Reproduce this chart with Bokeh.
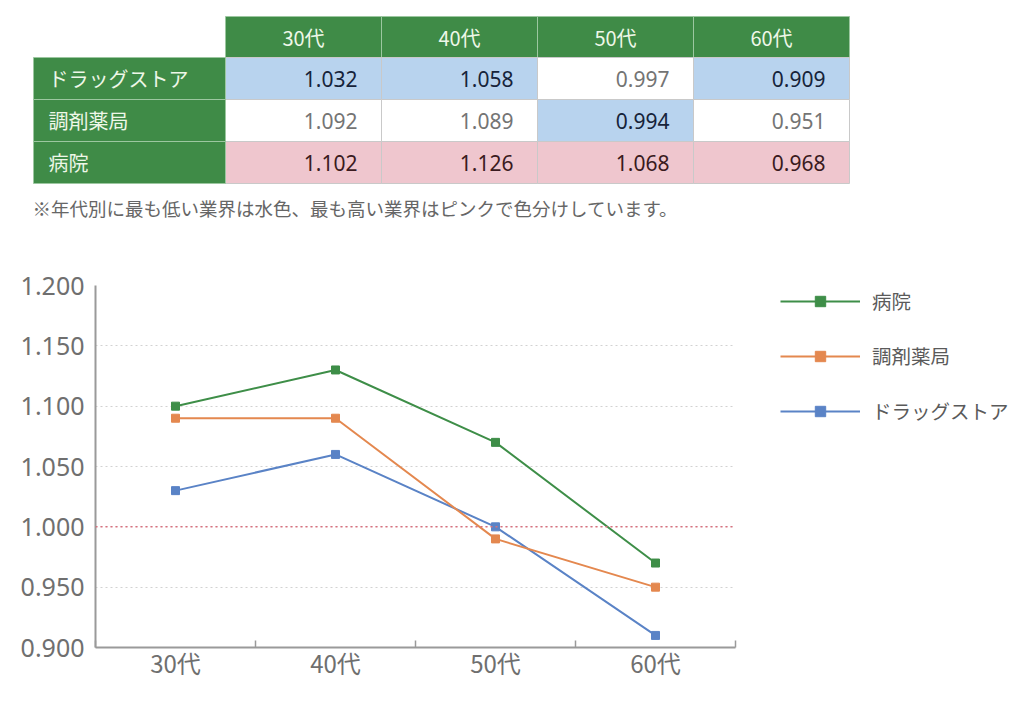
from bokeh.plotting import figure
from bokeh.models import (Range1d, FixedTicker, NumeralTickFormatter, Span, Legend,
                          LegendItem, ColumnDataSource)
from bokeh.core.properties import value
from bokeh.embed import file_html
from bokeh.resources import INLINE

# ---------------- data ----------------
ages = ["30代", "40代", "50代", "60代"]
industries = ["ドラッグストア", "調剤薬局", "病院"]
table_drug = [1.032, 1.058, 0.997, 0.909]
table_pharm = [1.092, 1.089, 0.994, 0.951]
table_hosp = [1.102, 1.126, 1.068, 0.968]
note = "※年代別に最も低い業界は水色、最も高い業界はピンクで色分けしています。"

# values as plotted in the line chart
chart_hosp = [1.10, 1.13, 1.07, 0.97]
chart_pharm = [1.09, 1.09, 0.99, 0.95]
chart_drug = [1.03, 1.06, 1.00, 0.91]
y_ticks = [0.900, 0.950, 1.000, 1.050, 1.100, 1.150, 1.200]
baseline = 1.000

# ---------------- styles ----------------
JP = "Noto Sans CJK JP"
NUM = "Noto Sans"
GREEN = "#3f8b47"
BLUE_CELL = "#b8d3ee"
PINK_CELL = "#efc6ce"
C_HOSP = "#3e8e48"
C_PHARM = "#e4884f"
C_DRUG = "#5a83c6"

# ---------------- table figure ----------------
TW, TH = 1008, 228
t = figure(width=TW, height=TH, x_range=Range1d(0, TW), y_range=Range1d(TH, 0),
           output_backend="svg", toolbar_location=None, min_border=0,
           x_axis_type=None, y_axis_type=None, outline_line_color=None)
t.grid.visible = False

LEFT = 33          # left of row header column
HEAD_W = 192       # row header column width
CW = 156           # data column width
TOP = 16           # top of header row
HH = 41            # header row height
RH = 42            # data row height
COL0 = LEFT + HEAD_W

# header row
hx = [COL0 + i * CW + CW / 2 for i in range(len(ages))]
t.rect(x=hx, y=[TOP + HH / 2] * len(ages), width=CW, height=HH,
       fill_color=GREEN, line_color="#9cc7a0", line_width=1)
t.text(x=hx, y=[TOP + HH / 2] * len(ages), text=ages, text_align="center",
       text_baseline="middle", text_color="#eef7e8", text_font=value(JP),
       text_font_size="20px")

rows = [table_drug, table_pharm, table_hosp]
cx, cy, fill, txt, tcol, tx = [], [], [], [], [], []
for c in range(len(ages)):
    col_vals = [r[c] for r in rows]
    lo, hi = min(col_vals), max(col_vals)
    for r, vals in enumerate(rows):
        v = vals[c]
        cx.append(COL0 + c * CW + CW / 2)
        cy.append(TOP + HH + r * RH + RH / 2)
        tx.append(COL0 + (c + 1) * CW - 24)
        txt.append(f"{v:.3f}")
        if v == lo:
            fill.append(BLUE_CELL); tcol.append("#16233a")
        elif v == hi:
            fill.append(PINK_CELL); tcol.append("#3a1a20")
        else:
            fill.append("#ffffff"); tcol.append("#747474")
src = ColumnDataSource(dict(x=cx, y=cy, fill=fill, txt=txt, tcol=tcol, tx=tx))
t.rect(x="x", y="y", width=CW, height=RH, fill_color="fill", line_color="#c9c9c9",
       line_width=1, source=src)
t.text(x="tx", y="y", text="txt", text_color="tcol", text_align="right",
       text_baseline="middle", text_font=value(NUM), text_font_size="21px", source=src)

# row headers
ry = [TOP + HH + r * RH + RH / 2 for r in range(len(industries))]
t.rect(x=[LEFT + HEAD_W / 2] * len(industries), y=ry, width=HEAD_W, height=RH,
       fill_color=GREEN, line_color="#9cc7a0", line_width=1)
t.text(x=[LEFT + 15] * len(industries), y=ry, text=industries, text_align="left",
       text_baseline="middle", text_color="#eef7e8", text_font=value(JP),
       text_font_size="20px")

# note
t.text(x=[LEFT - 1], y=[TOP + HH + 3 * RH + 24], text=[note], text_align="left",
       text_baseline="middle", text_color="#666666", text_font=value(JP),
       text_font_size="18.5px")

# ---------------- chart figure ----------------
p = figure(frame_width=640, frame_height=362, x_range=Range1d(0, len(ages)),
           y_range=Range1d(y_ticks[0], y_ticks[-1]),
           output_backend="svg", toolbar_location=None,
           min_border_left=95, min_border_right=0, min_border_top=57,
           min_border_bottom=40, outline_line_color=None,
           background_fill_color="#ffffff", border_fill_color="#ffffff")

xs = [i + 0.5 for i in range(len(ages))]

# x axis: labels at centres, tick marks at category boundaries
p.xaxis.ticker = FixedTicker(ticks=xs, minor_ticks=list(range(len(ages) + 1)))
p.xaxis.major_label_overrides = {x: a for x, a in zip(xs, ages)}
p.xaxis.major_tick_line_color = None
p.xaxis.major_tick_in = 0
p.xaxis.major_tick_out = 0
p.xaxis.minor_tick_in = 7
p.xaxis.minor_tick_out = 0
p.xaxis.minor_tick_line_color = "#9a9a9a"
p.xaxis.minor_tick_line_width = 1.5
p.xaxis.axis_line_color = "#9a9a9a"
p.xaxis.axis_line_width = 2
p.xaxis.major_label_text_font = JP
p.xaxis.major_label_text_font_size = "24px"
p.xaxis.major_label_text_color = "#6f6f6f"
p.xaxis.major_label_standoff = -3

p.yaxis.ticker = FixedTicker(ticks=y_ticks)
p.yaxis.formatter = NumeralTickFormatter(format="0.000")
p.yaxis.major_tick_line_color = None
p.yaxis.minor_tick_line_color = None
p.yaxis.major_tick_in = 0
p.yaxis.major_tick_out = 0
p.yaxis.axis_line_color = "#9a9a9a"
p.yaxis.axis_line_width = 2
p.yaxis.major_label_text_font = NUM
p.yaxis.major_label_text_font_size = "25px"
p.yaxis.major_label_text_color = "#6f6f6f"
p.yaxis.major_label_standoff = 11

p.xgrid.visible = False
p.ygrid.grid_line_color = "#d2d2d2"
p.ygrid.grid_line_dash = "2 3"
p.ygrid.grid_line_width = 1.2

p.add_layout(Span(location=baseline, dimension="width", line_color="#d9707e",
                  line_dash="2 3", line_width=1.5))

series = [("病院", chart_hosp, C_HOSP), ("調剤薬局", chart_pharm, C_PHARM),
          ("ドラッグストア", chart_drug, C_DRUG)]
items = []
for name, vals, col in reversed(series):
    l = p.line(xs, vals, line_color=col, line_width=2)
    s = p.scatter(xs, vals, marker="square", size=8, fill_color=col, line_color=col)
    items.append(LegendItem(label=name, renderers=[l, s]))
items = list(reversed(items))

legend = Legend(items=items, location=(45, 222), glyph_width=80, glyph_height=26,
                label_height=26, spacing=26, padding=0, margin=0, label_standoff=12,
                border_line_color=None, background_fill_alpha=0,
                label_text_font=JP, label_text_font_size="19.5px",
                label_text_color="#5a5a5a")
p.add_layout(legend, "right")

open("out.html", "w").write(file_html([t, p], INLINE))
